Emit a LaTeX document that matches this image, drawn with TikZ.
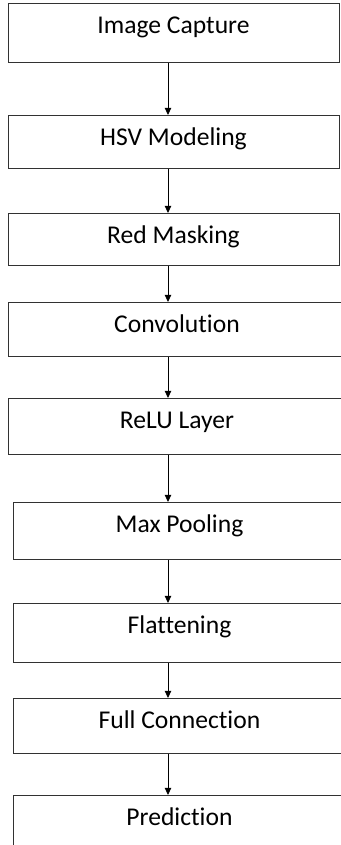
\documentclass[tikz,border=0pt]{standalone}
\usepackage{fontspec}
\setmainfont{Carlito}[Ligatures=NoCommon]
\usepackage{tikz}
\usetikzlibrary{arrows.meta, positioning, calc}
\definecolor{boxline}{RGB}{50,50,50}
\tikzset{
  stage/.style = {draw=boxline, line width=0.7pt, fill=white, inner sep=0pt,
                  text height=0.75cm, text depth=#1, anchor=north,
                  font=\fontsize{18.2}{22}\selectfont},
  narrow/.style = {stage=#1, minimum width=8.275cm},
  wide/.style   = {stage=#1, minimum width=8.45cm},
  shifted/.style= {stage=#1, minimum width=8.325cm},
  arr/.style    = {-{Triangle[length=5pt, width=4.5pt]}, line width=0.6pt, color=black},
}

\begin{document}
\begin{tikzpicture}
  \useasboundingbox (0,0) rectangle (8.525,-21.125);

  \node[narrow=0.725cm]  (cap)  at (4.3375,-0.075) {Image Capture};
  \node[narrow=0.575cm]  (hsv)  at (4.3375,-2.875) {HSV Modeling};
  \node[narrow=0.55cm]   (mask) at (4.3375,-5.325) {Red Masking};
  \node[wide=0.6cm]      (conv) at (4.425,-7.55)   {Convolution};
  \node[wide=0.65cm]     (relu) at (4.425,-9.95)   {ReLU Layer};
  \node[shifted=0.675cm] (pool) at (4.4875,-12.55) {Max Pooling};
  \node[shifted=0.725cm] (flat) at (4.4875,-15.075) {Flattening};
  \node[shifted=0.625cm] (full) at (4.4875,-17.45) {Full Connection};
  \node[shifted=0.75cm]  (pred) at (4.4875,-19.875) {Prediction};

  \coordinate (ax) at (4.2,0);
  \foreach \a/\b in {cap/hsv,hsv/mask,mask/conv,conv/relu,relu/pool,pool/flat,flat/full,full/pred}
    \draw[arr] (\a.south -| ax) -- (\b.north -| ax);

\end{tikzpicture}
\end{document}
